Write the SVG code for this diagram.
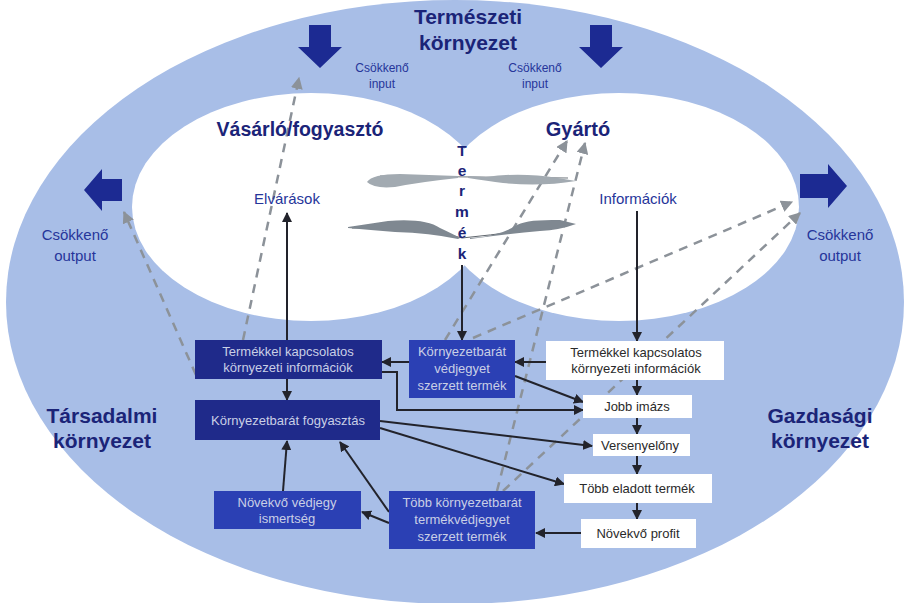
<svg xmlns="http://www.w3.org/2000/svg" width="909" height="603" viewBox="0 0 909 603">
<defs>
<style>
.title{font-family:"Liberation Sans",Arial,sans-serif;font-weight:bold;fill:#1b2478;text-anchor:middle}
.lbl{font-family:"Liberation Sans",Arial,sans-serif;fill:#26359a;text-anchor:middle}
.bt{font-family:"Liberation Sans",Arial,sans-serif;font-size:13px;text-anchor:middle}
.dark{fill:#1f2a8a}
.mid{fill:#2b40b4}
.dt{fill:#c9cfe6}
.wb{fill:#ffffff}
.wt{fill:#2a2a2a}
.sol{stroke:#22232b;stroke-width:2;fill:none;marker-end:url(#ah)}
.dash{stroke:#8c9299;stroke-width:2.5;fill:none;stroke-dasharray:9 7;marker-end:url(#gh)}
.blk{fill:#1c2a92}
</style>
<marker id="ah" viewBox="0 0 10 10" refX="9" refY="5" markerWidth="10" markerHeight="10" markerUnits="userSpaceOnUse" orient="auto">
<path d="M0,0 L10,5 L0,10 Z" fill="#22232b"/>
</marker>
<marker id="gh" viewBox="0 0 10 10" refX="9" refY="5" markerWidth="12" markerHeight="12" markerUnits="userSpaceOnUse" orient="auto">
<path d="M0,0 L10,5 L0,10 Z" fill="#8c9299"/>
</marker>
</defs>
<rect width="909" height="603" fill="#ffffff"/>
<g id="background">
<ellipse cx="455" cy="302" rx="449" ry="302" fill="#a8bee7"/>
<ellipse cx="311" cy="207" rx="179" ry="114" fill="#ffffff"/>
<ellipse cx="619" cy="207" rx="180" ry="114" fill="#ffffff"/>
</g>
<g id="connectors">
<line class="dash" x1="243" y1="340" x2="299" y2="78"/>
<line class="dash" x1="196" y1="375" x2="124" y2="212"/>
<line class="dash" x1="445" y1="340" x2="567" y2="141"/>
<line class="dash" x1="497" y1="491" x2="585" y2="143"/>
<line class="dash" x1="473" y1="338" x2="792" y2="202"/>
<line class="dash" x1="503" y1="491" x2="800" y2="213"/>
<line class="sol" x1="287" y1="340" x2="287" y2="213"/>
<line class="sol" x1="462" y1="265" x2="462" y2="340"/>
<line class="sol" x1="637" y1="211" x2="637" y2="341"/>
<line class="sol" x1="287" y1="379" x2="287" y2="400"/>
<line class="sol" x1="409" y1="362" x2="382" y2="362"/>
<line class="sol" x1="546" y1="362" x2="515" y2="362"/>
<polyline class="sol" points="381,372 397,372 397,410 583,410"/>
<line class="sol" x1="515" y1="376" x2="583" y2="402"/>
<line class="sol" x1="380" y1="421" x2="592" y2="446"/>
<line class="sol" x1="380" y1="428" x2="564" y2="484"/>
<line class="sol" x1="637" y1="380" x2="637" y2="395"/>
<line class="sol" x1="637" y1="418" x2="637" y2="434"/>
<line class="sol" x1="637" y1="456" x2="637" y2="474"/>
<line class="sol" x1="637" y1="503" x2="637" y2="519"/>
<line class="sol" x1="581" y1="533" x2="536" y2="533"/>
<line class="sol" x1="389" y1="512" x2="340" y2="442"/>
<line class="sol" x1="389" y1="523" x2="362" y2="512"/>
<line class="sol" x1="283" y1="491" x2="287" y2="441"/>
</g>
<g id="termeszeti">
<text class="title" font-size="21" x="468" y="24">Természeti</text>
<text class="title" font-size="21" x="468" y="50">környezet</text>
</g>
<g id="input-left">
<polygon class="blk" points="309,25 331,25 331,47 342,47 320,68 298,47 309,47"/>
<text class="lbl" font-size="12" x="382" y="72">Csökkenő</text>
<text class="lbl" font-size="12" x="382" y="88">input</text>
</g>
<g id="input-right">
<polygon class="blk" points="590,25 612,25 612,47 623,47 601,68 579,47 590,47"/>
<text class="lbl" font-size="12" x="535" y="72">Csökkenő</text>
<text class="lbl" font-size="12" x="535" y="88">input</text>
</g>
<g id="output-left">
<polygon class="blk" points="122,179 102,179 102,169 84,190 102,211 102,201 122,201"/>
<text class="lbl" font-size="15" x="75" y="240">Csökkenő</text>
<text class="lbl" font-size="15" x="75" y="261">output</text>
</g>
<g id="output-right">
<polygon class="blk" points="800,174 828,174 828,164 847,186 828,208 828,198 800,198"/>
<text class="lbl" font-size="15" x="840" y="240">Csökkenő</text>
<text class="lbl" font-size="15" x="840" y="261">output</text>
</g>
<g id="vasarlo">
<text class="title" font-size="19.5" x="300" y="136">Vásárló/fogyasztó</text>
<text class="lbl" font-size="15" x="287" y="204">Elvárások</text>
</g>
<g id="gyarto">
<text class="title" font-size="20" x="578" y="136">Gyártó</text>
<text class="lbl" font-size="15" x="638" y="204">Információk</text>
</g>
<g id="termek">
<path d="M380,176 L568,178" stroke="#6f767d" stroke-width="1" fill="none"/>
<path d="M352,228 Q420,226 462,238 Q520,232 570,224" stroke="#5f666d" stroke-width="1" fill="none"/>
<path d="M367,182 Q372,174 400,174 L458,176 L458,178 Q420,182 395,187 Q374,189 367,182 Z" fill="#a2aab1"/>
<path d="M468,176 L486,177 Q520,172 558,178 L576,181 Q540,187 503,183 Q488,181 468,178 Z" fill="#a2aab1"/>
<path d="M348,227 L388,221 Q425,218 440,228 Q455,235 460,238 L458,239 Q430,233 395,232 Q370,230 348,228 Z" fill="#7f8891"/>
<path d="M470,238 Q500,236 515,226 Q525,219 560,220 L576,224 Q560,230 540,231 Q505,234 470,239 Z" fill="#7f8891"/>
<g class="title" font-size="15.5">
<text x="462" y="156">T</text>
<text x="462" y="176">e</text>
<text x="462" y="196">r</text>
<text x="462" y="217">m</text>
<text x="462" y="238">é</text>
<text x="462" y="259">k</text>
</g>
</g>
<g id="tarsadalmi">
<text class="title" font-size="21" x="102" y="423">Társadalmi</text>
<text class="title" font-size="21" x="102" y="448">környezet</text>
</g>
<g id="gazdasagi">
<text class="title" font-size="21" x="820" y="423">Gazdasági</text>
<text class="title" font-size="21" x="820" y="448">környezet</text>
</g>
<g id="box-termekinfo-left">
<rect class="dark" x="195" y="340" width="187" height="39"/>
<text class="bt dt" x="288" y="356">Termékkel kapcsolatos</text>
<text class="bt dt" x="288" y="372">környezeti információk</text>
</g>
<g id="box-fogyasztas">
<rect class="dark" x="195" y="400" width="185" height="40"/>
<text class="bt dt" x="288" y="425">Környezetbarát fogyasztás</text>
</g>
<g id="box-vedjegyes-termek">
<rect class="mid" x="409" y="340" width="106" height="58"/>
<text class="bt dt" x="462" y="356">Környezetbarát</text>
<text class="bt dt" x="462" y="373">védjegyet</text>
<text class="bt dt" x="462" y="390">szerzett termék</text>
</g>
<g id="box-ismertseg">
<rect class="mid" x="214" y="491" width="147" height="38"/>
<text class="bt dt" x="287" y="507">Növekvő védjegy</text>
<text class="bt dt" x="287" y="523">ismertség</text>
</g>
<g id="box-tobb-termek">
<rect class="mid" x="389" y="491" width="146" height="58"/>
<text class="bt dt" x="462" y="507">Több környezetbarát</text>
<text class="bt dt" x="462" y="524">termékvédjegyet</text>
<text class="bt dt" x="462" y="541">szerzett termék</text>
</g>
<g id="box-termekinfo-right">
<rect class="wb" x="546" y="341" width="178" height="39"/>
<text class="bt wt" x="636" y="357">Termékkel kapcsolatos</text>
<text class="bt wt" x="636" y="373">környezeti információk</text>
</g>
<g id="box-imazs">
<rect class="wb" x="583" y="395" width="109" height="23"/>
<text class="bt wt" x="637" y="411">Jobb imázs</text>
</g>
<g id="box-versenyeloeny">
<rect class="wb" x="593" y="434" width="97" height="22"/>
<text class="bt wt" x="640" y="450">Versenyelőny</text>
</g>
<g id="box-eladott">
<rect class="wb" x="564" y="474" width="148" height="29"/>
<text class="bt wt" x="637" y="493">Több eladott termék</text>
</g>
<g id="box-profit">
<rect class="wb" x="581" y="519" width="115" height="29"/>
<text class="bt wt" x="638" y="538">Növekvő profit</text>
</g>
</svg>
